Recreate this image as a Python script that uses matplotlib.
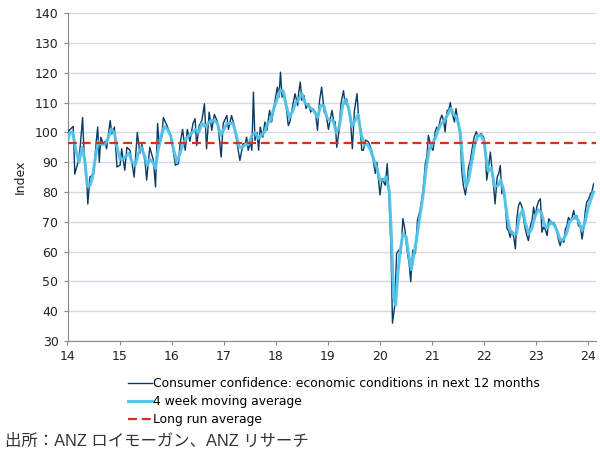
import matplotlib
matplotlib.use("Agg")
import matplotlib.pyplot as plt
import numpy as np

# Consumer confidence: economic conditions in next 12 months
cc_year = [14.00, 14.05, 14.11, 14.14, 14.21, 14.24, 14.29, 14.32, 14.37, 14.39,
           14.43, 14.50, 14.56, 14.58, 14.61, 14.64, 14.69, 14.72, 14.75, 14.82,
           14.85, 14.90, 14.95, 15.01, 15.04, 15.10, 15.14, 15.20, 15.23, 15.28,
           15.34, 15.39, 15.43, 15.49, 15.52, 15.58, 15.65, 15.69, 15.73, 15.76,
           15.81, 15.84, 15.91, 15.97, 16.03, 16.07, 16.13, 16.16, 16.21, 16.26,
           16.30, 16.35, 16.41, 16.45, 16.48, 16.53, 16.58, 16.63, 16.67, 16.72,
           16.77, 16.82, 16.87, 16.90, 16.95, 16.99, 17.06, 17.09, 17.15, 17.22,
           17.25, 17.31, 17.37, 17.41, 17.44, 17.47, 17.51, 17.54, 17.57, 17.60,
           17.64, 17.67, 17.70, 17.75, 17.79, 17.83, 17.88, 17.92, 17.95, 17.99,
           18.03, 18.06, 18.09, 18.12, 18.16, 18.20, 18.24, 18.27, 18.33, 18.37,
           18.42, 18.44, 18.47, 18.50, 18.54, 18.58, 18.63, 18.67, 18.71, 18.76,
           18.80, 18.84, 18.88, 18.93, 18.97, 19.01, 19.04, 19.08, 19.11, 19.14,
           19.17, 19.21, 19.25, 19.30, 19.33, 19.36, 19.39, 19.43, 19.47, 19.51,
           19.56, 19.59, 19.62, 19.65, 19.68, 19.72, 19.78, 19.84, 19.91, 19.94,
           20.00, 20.04, 20.10, 20.14, 20.17, 20.21, 20.24, 20.28, 20.32, 20.36,
           20.40, 20.44, 20.48, 20.52, 20.56, 20.59, 20.63, 20.68, 20.72, 20.77,
           20.81, 20.84, 20.87, 20.90, 20.93, 20.98, 21.02, 21.06, 21.09, 21.12,
           21.16, 21.19, 21.22, 21.25, 21.29, 21.32, 21.35, 21.38, 21.43, 21.46,
           21.50, 21.54, 21.57, 21.60, 21.64, 21.67, 21.70, 21.73, 21.78, 21.81,
           21.85, 21.89, 21.94, 21.99, 22.02, 22.05, 22.08, 22.12, 22.15, 22.18,
           22.21, 22.25, 22.28, 22.31, 22.34, 22.37, 22.41, 22.44, 22.47, 22.50,
           22.53, 22.57, 22.60, 22.63, 22.66, 22.69, 22.73, 22.76, 22.79, 22.82,
           22.85, 22.89, 22.92, 22.95, 22.98, 23.01, 23.05, 23.08, 23.11, 23.14,
           23.17, 23.21, 23.24, 23.27, 23.30, 23.33, 23.37, 23.40, 23.43, 23.46,
           23.49, 23.53, 23.56, 23.59, 23.62, 23.65, 23.69, 23.72, 23.75, 23.78,
           23.81, 23.85, 23.88, 23.91, 23.94, 23.97, 24.01, 24.04, 24.07, 24.10]
cc_value = [100, 101, 102, 86, 90.6, 94.5, 105, 92, 83.4, 76,
            85, 86, 98.4, 101.8, 90, 98.4, 96, 97, 94.5, 104,
            99.5, 101.8, 88.4, 89, 94.5, 87.3, 95, 94, 90.6, 85,
            100, 93, 96, 90, 84, 95, 90.6, 81.7, 103, 96,
            98.4, 105, 102.3, 99.5, 94, 89, 89.5, 96, 101, 94,
            101, 97, 103, 104.6, 95.6, 102.3, 104, 109.6, 94.5, 106.8,
            100.7, 106, 104, 100.7, 91.7, 103, 105.7, 101, 105.7, 101,
            97, 90.6, 96.2, 96.2, 98.4, 94, 96.8, 94, 113.5, 97.3,
            100, 94, 101.8, 98.4, 103.5, 100.7, 107.4, 103.5, 106.8, 111.3,
            115.2, 111.8, 120.2, 111.8, 113, 108.5, 102.3, 103.5, 109.6, 113,
            109, 113.5, 116.9, 110.7, 112.4, 108, 109.6, 106.8, 108, 106.8,
            100.7, 110.7, 115.2, 106.8, 105.7, 101, 104, 107.4, 104, 103.5,
            95, 100, 109.6, 114, 109.6, 111.3, 108, 105, 94.5, 107.4,
            113, 104.6, 101.8, 94, 94, 97.4, 96.8, 94, 86.2, 90,
            79, 84.5, 82.3, 89.5, 80, 62, 36, 41.5, 59.4, 60.5,
            59.4, 71.1, 67.2, 60.5, 56, 49.9, 60.5, 59.4, 70.6, 73.9,
            78.4, 82.8, 89.5, 91.8, 99, 95.1, 94, 100.2, 101.8, 100.7,
            104.6, 105.8, 104, 100.2, 107.4, 107.4, 110, 106.9, 103.5, 108,
            103, 99.6, 87.3, 82.3, 79, 82.8, 88.4, 90, 95.7, 98.5,
            100.2, 98.5, 99.6, 98.5, 94, 84, 87.8, 93.4, 87.8, 82.2,
            76, 85, 86.1, 88.9, 79.4, 81.6, 74.9, 67.6, 67, 64.8,
            67, 64.8, 60.9, 71.5, 75.4, 76.6, 74.9, 70.4, 67.6, 65.4,
            63.7, 68.7, 70.4, 74.9, 71.5, 74.9, 77.1, 77.7, 66.5, 68.2,
            67.6, 65.4, 71, 70.4, 69.3, 69.8, 68.7, 66.5, 63.7, 62,
            64.2, 63.1, 67.6, 68.7, 71.5, 70.4, 71.5, 73.8, 71, 72.1,
            68.7, 68.2, 64.2, 67.6, 73.2, 76.6, 77.7, 79.4, 80, 82.7]

# 4 week moving average
ma_year = [14.00, 14.05, 14.10, 14.16, 14.22, 14.28, 14.33, 14.38, 14.43, 14.48,
           14.54, 14.59, 14.65, 14.72, 14.78, 14.84, 14.90, 14.95, 15.01, 15.06,
           15.12, 15.18, 15.24, 15.30, 15.36, 15.42, 15.48, 15.53, 15.58, 15.64,
           15.69, 15.74, 15.80, 15.86, 15.92, 15.98, 16.04, 16.10, 16.16, 16.22,
           16.28, 16.34, 16.40, 16.46, 16.52, 16.58, 16.64, 16.70, 16.76, 16.82,
           16.88, 16.94, 17.00, 17.06, 17.12, 17.18, 17.24, 17.30, 17.36, 17.42,
           17.48, 17.54, 17.60, 17.66, 17.72, 17.78, 17.84, 17.90, 17.96, 18.02,
           18.08, 18.14, 18.20, 18.26, 18.32, 18.38, 18.44, 18.50, 18.56, 18.62,
           18.68, 18.74, 18.80, 18.86, 18.92, 18.98, 19.04, 19.10, 19.16, 19.22,
           19.28, 19.34, 19.40, 19.46, 19.52, 19.58, 19.64, 19.70, 19.76, 19.82,
           19.88, 19.94, 20.00, 20.06, 20.12, 20.18, 20.22, 20.26, 20.30, 20.34,
           20.38, 20.44, 20.50, 20.56, 20.60, 20.64, 20.70, 20.76, 20.82, 20.88,
           20.94, 21.00, 21.06, 21.12, 21.18, 21.24, 21.30, 21.36, 21.42, 21.48,
           21.54, 21.58, 21.62, 21.66, 21.70, 21.76, 21.82, 21.88, 21.94, 22.00,
           22.04, 22.08, 22.14, 22.20, 22.26, 22.32, 22.38, 22.44, 22.50, 22.56,
           22.62, 22.68, 22.74, 22.80, 22.86, 22.92, 22.98, 23.04, 23.10, 23.16,
           23.22, 23.28, 23.34, 23.40, 23.46, 23.52, 23.58, 23.64, 23.70, 23.76,
           23.82, 23.88, 23.94, 24.00, 24.06, 24.10]
ma_value = [97, 100, 100, 94, 90, 95, 91, 82, 82, 85,
            92, 97, 96, 96, 98, 101, 100, 95, 91, 91,
            92, 93, 90, 89, 93, 95, 92, 89, 91, 90,
            88, 94, 99, 102, 101, 99, 94, 90, 93, 96,
            98, 99, 100, 101, 100, 103, 102, 103, 104, 104,
            103, 99, 101, 103, 103, 103, 99, 95, 95, 96,
            96, 99, 100, 98, 99, 100, 103, 104, 108, 111,
            114, 114, 109, 105, 107, 110, 111, 113, 110, 109,
            108, 107, 105, 109, 109, 105, 104, 104, 100, 102,
            109, 111, 108, 102, 104, 106, 99, 96, 96, 94,
            91, 88, 84, 84, 85, 80, 65, 45, 42, 52,
            59, 66, 65, 58, 54, 58, 64, 71, 78, 87,
            94, 96, 98, 101, 103, 104, 106, 108, 106, 105,
            100, 92, 85, 82, 84, 90, 96, 99, 99, 97,
            91, 87, 88, 82, 82, 84, 80, 72, 67, 66,
            66, 72, 74, 69, 66, 68, 72, 74, 73, 69,
            68, 70, 69, 67, 64, 64, 66, 70, 71, 72,
            70, 67, 70, 75, 78, 80]

long_run_avg = 96.3

series_labels = ["Consumer confidence: economic conditions in next 12 months",
                 "4 week moving average",
                 "Long run average"]
x_ticks = list(range(14, 25))
y_ticks = list(range(30, 141, 10))
source_text = "出所：ANZ ロイモーガン、ANZ リサーチ"

fig = plt.figure(figsize=(6.0, 4.55), dpi=100)
ax = fig.add_axes([0.1125, 0.2505, 0.881, 0.7205])

l1, = ax.plot(cc_year, cc_value, color="#0b3a62", lw=1.0, zorder=3)
l2, = ax.plot(ma_year, ma_value, color="#52c3ea", lw=2.2, zorder=4, alpha=0.95)
l3 = ax.axhline(long_run_avg, color="#d8330f", lw=1.6, ls=(0, (4, 2.2)), zorder=5)

ax.set_xlim(14, 24.15)
ax.set_ylim(30, 140)
ax.set_xticks(x_ticks)
ax.set_yticks(y_ticks)
ax.tick_params(labelsize=9, colors="#222222", length=3, width=0.8)
ax.tick_params(axis="both", color="#888888")
ax.yaxis.grid(True, color="#d5dbe1", lw=1.0)
ax.set_axisbelow(True)
for s in ["top", "right"]:
    ax.spines[s].set_visible(False)
for s in ["left", "bottom"]:
    ax.spines[s].set_color("#888888")
ax.set_ylabel("Index", fontsize=9, color="#222222", labelpad=6)

fig.legend([l1, l2, l3], series_labels, loc="upper left",
           bbox_to_anchor=(0.213, 0.171), frameon=False, fontsize=8.9,
           handlelength=1.95, handletextpad=0.1, labelspacing=0.40,
           borderaxespad=0, borderpad=0)

fig.text(0.008, 0.029, source_text, fontsize=11.8, color="#333333",
         family=["Liberation Sans", "Noto Sans CJK JP"], va="center")

fig.savefig("out.png", dpi=100)
